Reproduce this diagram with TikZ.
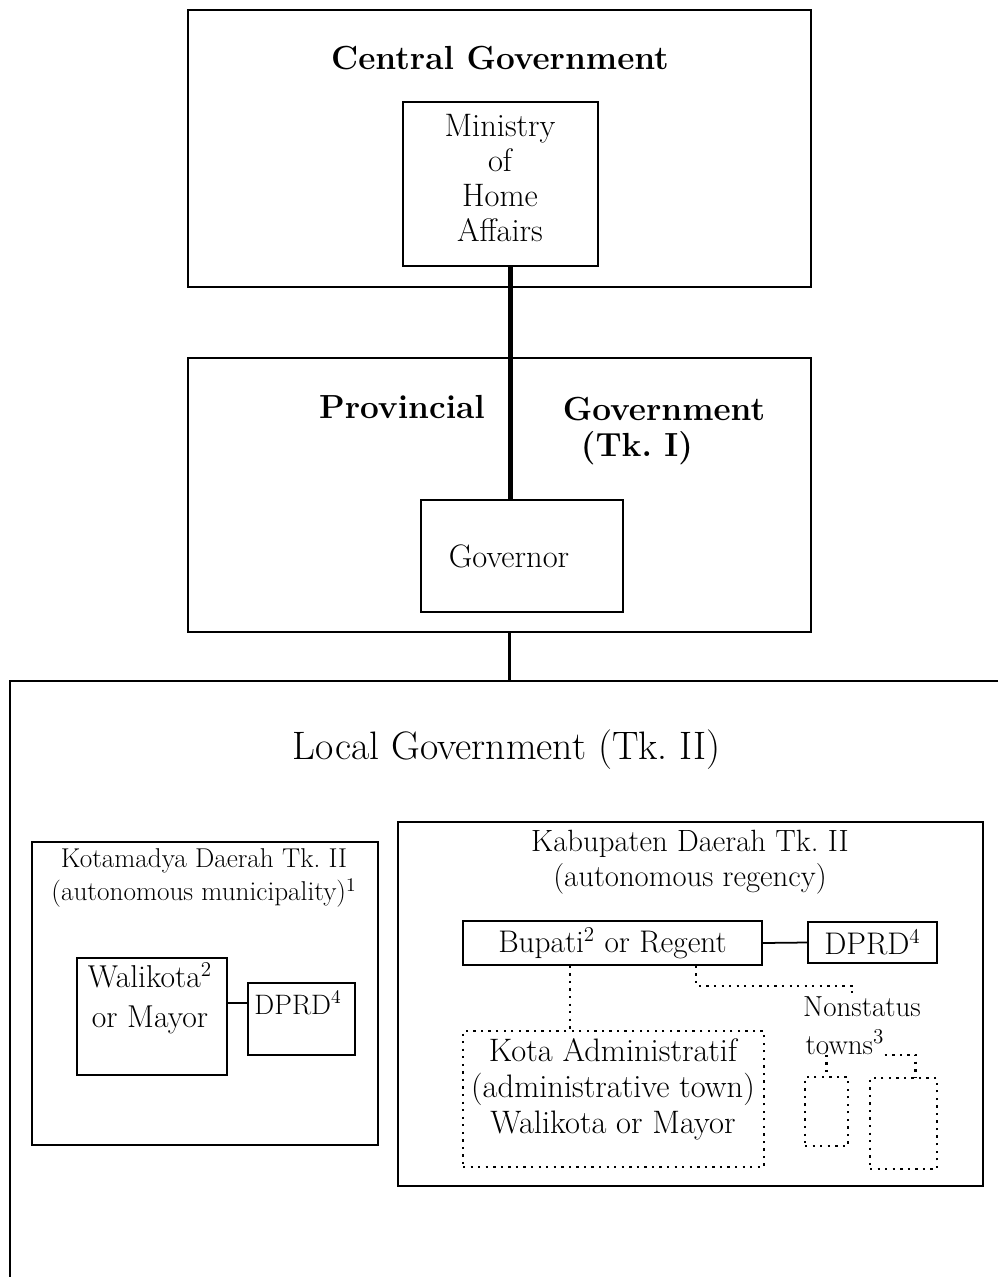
\documentclass[tikz,border=0pt]{standalone}
\usepackage{amsmath}
\usepackage{tikz}

\begin{document}
\begin{tikzpicture}[
    x=0.02cm, y=-0.02cm,
    govbox/.style={rectangle, draw, line width=1pt, inner sep=0pt},
    unitbox/.style={rectangle, draw, line width=0.9pt, inner sep=0pt, align=center, font=\fontsize{17.8}{20}\selectfont},
    dotbox/.style={rectangle, draw, line width=1.3pt, dash pattern=on 1.3pt off 3pt, inner sep=0pt},
    headtxt/.style={inner sep=0pt, font=\fontsize{19}{23}\selectfont\bfseries},
    smalltxt/.style={inner sep=0pt, align=center, font=\fontsize{15.5}{19}\selectfont},
    link/.style={draw, line width=1pt},
    mainlink/.style={draw, line width=2.4pt},
    dotlink/.style={draw, line width=1.3pt, dash pattern=on 1.3pt off 3pt}
]
    \useasboundingbox (0,0) rectangle (998,1277);

    \node [govbox, minimum width=12.46cm, minimum height=5.54cm] (central) at (499.5,148.5) {};
    \node [headtxt] (centraltitle) at (500,58) {Central Government};
    \node [govbox, minimum width=3.9cm, minimum height=3.28cm] (ministry) at (500.5,184) {};
    \node [smalltxt, font=\fontsize{18.5}{20}\selectfont] (ministrytxt) at (500,178) {Ministry\\of\\Home\\Affairs};

    \node [govbox, minimum width=12.46cm, minimum height=5.48cm] (prov) at (499.5,495) {};
    \node [headtxt] (provtitle) at (402,407) {Provincial};
    \node [headtxt] (provtitletwo) at (664,409) {Government};
    \node [headtxt] (tkone) at (637,448) {(Tk.~I)};
    \node [govbox, minimum width=4.04cm, minimum height=2.24cm] (governor) at (522,556) {};
    \node [smalltxt, font=\fontsize{18.5}{20}\selectfont] (governortxt) at (509,556) {Governor};

    \coordinate (mline) at ([xshift=0.2cm]ministry.south);
    \draw [mainlink] (mline) -- (mline |- governor.north);

    \coordinate (ltopleft) at (10,681);
    \coordinate (ltopright) at (998,681);
    \coordinate (lbottom) at (10,1277);
    \coordinate (pline) at ([xshift=0.2cm]prov.south);
    \draw [link] (ltopright) -- (ltopleft) -- (lbottom);
    \draw [link, line width=1.6pt] (pline) -- (pline |- ltopleft);
    \node [inner sep=0pt, font=\fontsize{22.6}{26}\selectfont] (localtitle) at (507,750) {Local Government (Tk.~II)};

    \node [govbox, minimum width=6.92cm, minimum height=6.06cm] (kotamadya) at (205,993.5) {};
    \node [smalltxt] (kotamadyatitle) at (204,878) {Kotamadya Daerah Tk.~II\\(autonomous municipality)$^1$};
    \node [govbox, minimum width=3.0cm, minimum height=2.34cm] (walikota) at (152,1016.5) {};
    \node [smalltxt, font=\fontsize{18}{22.7}\selectfont] (walikotatxt) at (150,998) {Walikota$^2$\\or Mayor};
    \node [govbox, minimum width=2.14cm, minimum height=1.44cm] (dprdone) at (301.5,1019) {};
    \node [smalltxt, font=\fontsize{16}{18}\selectfont] (dprdonetxt) at (298,1003) {DPRD$^4$};
    \draw [link] (dprdonetxt.west -| walikota.east) -- (dprdonetxt.west -| dprdone.west);

    \node [govbox, minimum width=11.7cm, minimum height=7.28cm] (kabupaten) at (690.5,1004) {};
    \node [smalltxt, font=\fontsize{17.5}{19.9}\selectfont] (kabupatentitle) at (690,862) {Kabupaten Daerah Tk.~II\\(autonomous regency)};
    \node [unitbox, minimum width=5.98cm, minimum height=0.88cm] (bupati) at (612.5,943) {Bupati$^2$ or Regent};
    \node [unitbox, minimum width=2.58cm, minimum height=0.82cm] (dprdtwo) at (872.5,942.5) {DPRD$^4$};
    \draw [link] (bupati.east) -- (dprdtwo.west);

    \node [dotbox, minimum width=6.02cm, minimum height=2.72cm] (kota) at (613.5,1099) {};
    \node [smalltxt, font=\fontsize{18.5}{20.5}\selectfont] (kotatxt) at (613,1089) {Kota Administratif\\(administrative town)\\Walikota or Mayor};
    \node [smalltxt, font=\fontsize{16.5}{19}\selectfont] (nonstatus) at (862,1007) {Nonstatus};
    \node [smalltxt, font=\fontsize{16.5}{19}\selectfont] (towns) at (845,1042) {towns$^3$};
    \node [dotbox, minimum width=0.86cm, minimum height=1.38cm] (smalla) at (826.5,1111.5) {};
    \node [dotbox, minimum width=1.34cm, minimum height=1.82cm] (smallb) at (903.5,1123.5) {};

    \coordinate (bk) at ([xshift=2.16cm]bupati.south west);
    \coordinate (bn) at ([xshift=4.68cm]bupati.south west);
    \coordinate (tb) at ([xshift=0.24cm]smallb.north);
    \draw [dotlink] (bk) -- (bk |- kota.north);
    \draw [dotlink] (bn) -- ++(0,20) -| ([xshift=-0.2cm, yshift=2pt]nonstatus.north);
    \draw [dotlink] (towns.south -| smalla.north) -- (smalla.north);
    \draw [dotlink] (towns.south east) -- (towns.south east -| tb) -- (tb);
\end{tikzpicture}
\end{document}
